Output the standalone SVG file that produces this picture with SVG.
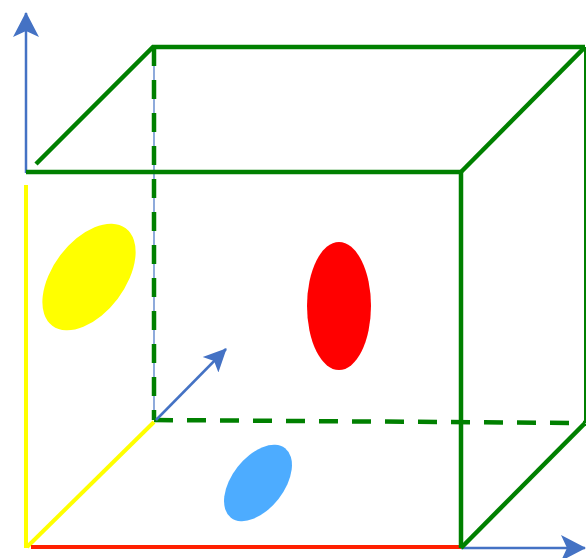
<svg xmlns="http://www.w3.org/2000/svg" width="586" height="558" viewBox="0 0 586 558">
<style>
.g{stroke:#008000;stroke-width:4.5;fill:none}
.gd{stroke:#008000;stroke-width:4.5;fill:none;stroke-dasharray:19 14}
.ax{stroke:#4472c4;fill:none}
</style>
<defs>
<marker id="ah" markerWidth="26" markerHeight="26" refX="24" refY="13" orient="auto" markerUnits="userSpaceOnUse" viewBox="0 0 26 26">
<path d="M0,0 L25,13 L0,26 L6,13 Z" fill="#4472c4"/>
</marker>
<marker id="ah2" markerWidth="24" markerHeight="24" refX="22" refY="12" orient="auto" markerUnits="userSpaceOnUse" viewBox="0 0 24 24">
<path d="M0,1 L23,12 L0,23 L5,12 Z" fill="#4472c4"/>
</marker>
</defs>
<g id="ellipses">
<ellipse id="yellow-ellipse" cx="89" cy="277" rx="61" ry="36" transform="rotate(-53 89 277)" fill="#ffff00"/>
<ellipse id="red-ellipse" cx="339" cy="306" rx="32" ry="64" fill="#ff0000"/>
<ellipse id="blue-ellipse" cx="258" cy="483" rx="44" ry="26" transform="rotate(-52 258 483)" fill="#4dacff"/>
</g>
<g id="connectors">
<line x1="154" y1="52" x2="154" y2="420" stroke="#4472c4" stroke-width="1.2"/>
<path class="gd" d="M154,47 L154,420"/>
<path class="gd" d="M154,420 L585,423"/>
<line x1="26" y1="185" x2="26" y2="548" stroke="#ffff00" stroke-width="4"/>
<line x1="27" y1="547" x2="154" y2="422" stroke="#ffff00" stroke-width="4"/>
<line x1="31" y1="547" x2="461" y2="547" stroke="#ff2000" stroke-width="4"/>
<line x1="26" y1="173" x2="26" y2="13" class="ax" stroke-width="2.5" marker-end="url(#ah)"/>
<line x1="461" y1="548" x2="585" y2="548" class="ax" stroke-width="2.5" marker-end="url(#ah)"/>
<line x1="156" y1="420" x2="226" y2="349" class="ax" stroke-width="2.5" marker-end="url(#ah2)"/>
<path class="g" d="M26,172 L461,172 L461,548"/>
<path class="g" d="M36,164 L153,47 L585,47"/>
<path class="g" d="M461,172 L585,47"/>
<line x1="585" y1="47" x2="585" y2="423" stroke="#008000" stroke-width="2"/>
<path class="g" d="M461,548 L585,423"/>
</g>
</svg>
